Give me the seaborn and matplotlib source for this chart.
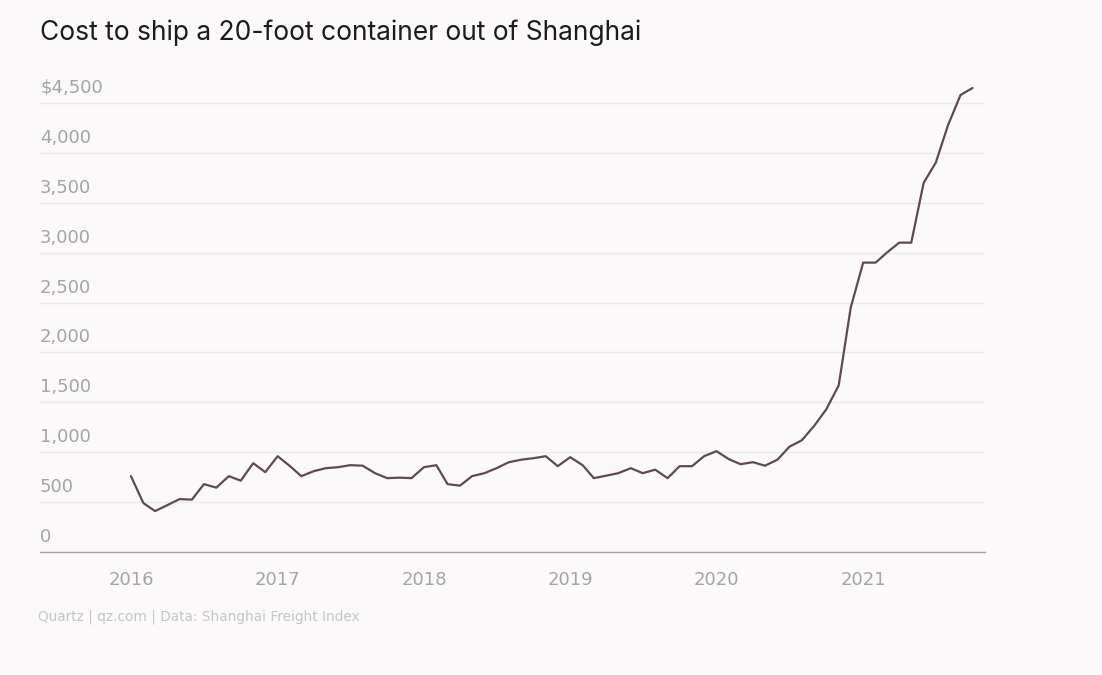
import pandas as pd
import seaborn as sns
import matplotlib.pyplot as plt
import matplotlib.transforms as mtransforms

# Monthly cost (USD) to ship a 20-foot container out of Shanghai, Jan 2016 - Oct 2021
months = pd.date_range("2016-01-01", periods=70, freq="MS")
cost = [760, 490, 410, 470, 530, 525, 680, 645, 760, 715, 890, 800,
        960, 860, 760, 810, 840, 850, 870, 865, 790, 740, 745, 740,
        850, 870, 680, 665, 760, 790, 840, 900, 925, 940, 960, 860,
        950, 870, 740, 765, 790, 840, 790, 825, 740, 860, 860, 960,
        1010, 930, 880, 900, 865, 925, 1055, 1120, 1265, 1430, 1670, 2450,
        2900, 2900, 3000, 3100, 3100, 3700, 3900, 4280, 4580, 4650]

y_ticks = [0, 500, 1000, 1500, 2000, 2500, 3000, 3500, 4000, 4500]
y_labels = ["0", "500", "1,000", "1,500", "2,000", "2,500", "3,000", "3,500", "4,000", "$4,500"]
years = ["2016", "2017", "2018", "2019", "2020", "2021"]

df = pd.DataFrame({"month": months, "cost": cost})

sns.set_style("white")
plt.rcParams["font.family"] = ["DejaVu Sans"]

bg = "#fbf9fa"
fig = plt.figure(figsize=(11.02, 6.75), dpi=100, facecolor=bg)
ax = fig.add_axes([40 / 1102, 123 / 675, 945 / 1102, 469 / 675])
ax.set_facecolor(bg)

sns.lineplot(data=df, x="month", y="cost", color="#5f4a53", linewidth=1.6, ax=ax)

ax.set_ylim(0, 4700)
ax.set_xlim(pd.Timestamp("2015-05-19"), pd.Timestamp("2021-11-01"))
ax.set_yticks(y_ticks)
ax.set_yticklabels(y_labels)
ax.set_xticks([pd.Timestamp(y + "-01-01") for y in years])
ax.set_xticklabels(years)
ax.set_xlabel("")
ax.set_ylabel("")

ax.grid(axis="y", color="#ebe9ea", linewidth=1)
ax.grid(axis="x", visible=False)
for side in ["top", "right", "left"]:
    ax.spines[side].set_visible(False)
ax.spines["bottom"].set_color("#a5a5a5")
ax.spines["bottom"].set_linewidth(1)

ax.tick_params(axis="y", length=0, pad=0, labelsize=13, labelcolor="#a5a5a5")
ax.tick_params(axis="x", length=0, pad=14, labelsize=13, labelcolor="#a5a5a5")

# put y labels on top of the gridlines, flush left
shift = mtransforms.ScaledTranslation(0, 0.10, fig.dpi_scale_trans)
for lab in ax.get_yticklabels():
    lab.set_horizontalalignment("left")
    lab.set_verticalalignment("baseline")
    lab.set_transform(lab.get_transform() + shift)

fig.text(40 / 1102, 1 - 33 / 675, "Cost to ship a 20-foot container out of Shanghai",
         fontsize=19, color="#1c1c1c", va="center", family=["Inter", "DejaVu Sans"])
fig.text(38 / 1102, 1 - 617 / 675, "Quartz | qz.com | Data: Shanghai Freight Index",
         fontsize=9.8, color="#c6c6c6", va="center")

plt.savefig("out.png", dpi=100, facecolor=bg)
